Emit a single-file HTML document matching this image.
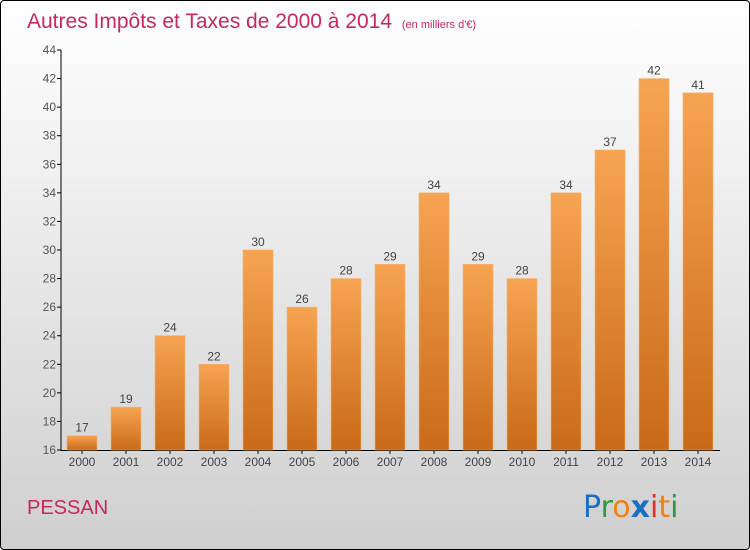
<!DOCTYPE html>
<html><head><meta charset="utf-8"><style>
html,body{margin:0;padding:0}
body{width:750px;height:550px;overflow:hidden;font-family:"Liberation Sans",sans-serif}
#wrap{position:absolute;left:0;top:0;width:748px;height:548px;border:1px solid #000;border-radius:4px;background:linear-gradient(#ffffff,#cfcfcf)}
</style></head><body>
<div id="wrap">
<svg width="750" height="550" style="position:absolute;left:-1px;top:-1px" font-family="'Liberation Sans',sans-serif">
<defs><linearGradient id="bg" x1="0" y1="0" x2="0" y2="1"><stop offset="0" stop-color="#f7a452"/><stop offset="1" stop-color="#c96a18"/></linearGradient></defs>
<text x="27" y="28" font-size="21" fill="#c8285a">Autres Impôts et Taxes de 2000 à 2014 <tspan font-size="11" dx="4">(en milliers d'€)</tspan></text>
<g id="axes"></g><g id="bars"></g>
<text x="27" y="514" font-size="20" fill="#c8285a">PESSAN</text>
<g font-size="30" font-family="'DejaVu Sans',sans-serif">
<text x="583" y="517"><tspan fill="#1a6fc4">P</tspan><tspan fill="#2a9a3a">r</tspan><tspan fill="#f08010">o</tspan><tspan fill="#1a6fc4" font-weight="bold">x</tspan><tspan fill="#e03020">i</tspan><tspan fill="#f08010">t</tspan><tspan fill="#2a9a3a">i</tspan></text></g>
</svg></div>
<script>
const years=["2000","2001","2002","2003","2004","2005","2006","2007","2008","2009","2010","2011","2012","2013","2014"];
const values=[17,19,24,22,30,26,28,29,34,29,28,34,37,42,41];
const ticks=[16,18,20,22,24,26,28,30,32,34,36,38,40,42,44];
const NS="http://www.w3.org/2000/svg";
const y0=450,y1=50,vmin=16,vmax=44;
const yS=v=>y0-(v-vmin)/(vmax-vmin)*(y0-y1);
const xS=i=>82+i*44;
function mk(t,a,p){const e=document.createElementNS(NS,t);for(const k in a)e.setAttribute(k,a[k]);p.appendChild(e);return e;}
const ax=document.getElementById('axes'),bg=document.getElementById('bars');
ticks.forEach(t=>{
 const tk=mk('line',{x1:57,x2:61,y1:yS(t),y2:yS(t),stroke:'#000'},ax);
 
 
 const l=mk('text',{x:56,y:yS(t)+4,'text-anchor':'end','font-size':12,fill:'#555'},ax);l.textContent=t;
 
 
});
const ya=mk('line',{x1:61,x2:61,y1:50,y2:451,stroke:'#000'},ax);


const xa=mk('line',{x1:61,x2:720,y1:450.5,y2:450.5,stroke:'#000'},ax);


years.forEach((yr,i)=>{
 const v=values[i],x=xS(i);
 const r=mk('rect',{x:x-15,y:yS(v),width:30,height:y0-yS(v),fill:'url(#bg)',stroke:'#f5b070','stroke-width':0.6},bg);
 
 
 const vl=mk('text',{x:x,y:yS(v)-4,'text-anchor':'middle','font-size':12,fill:'#444'},bg);vl.textContent=v;
 
 
 const tk=mk('line',{x1:x,x2:x,y1:450,y2:454,stroke:'#000'},ax);
 
 
 const xl=mk('text',{x:x,y:466,'text-anchor':'middle','font-size':12,fill:'#444'},ax);xl.textContent=yr;
 
 
});
</script>
</body></html>
